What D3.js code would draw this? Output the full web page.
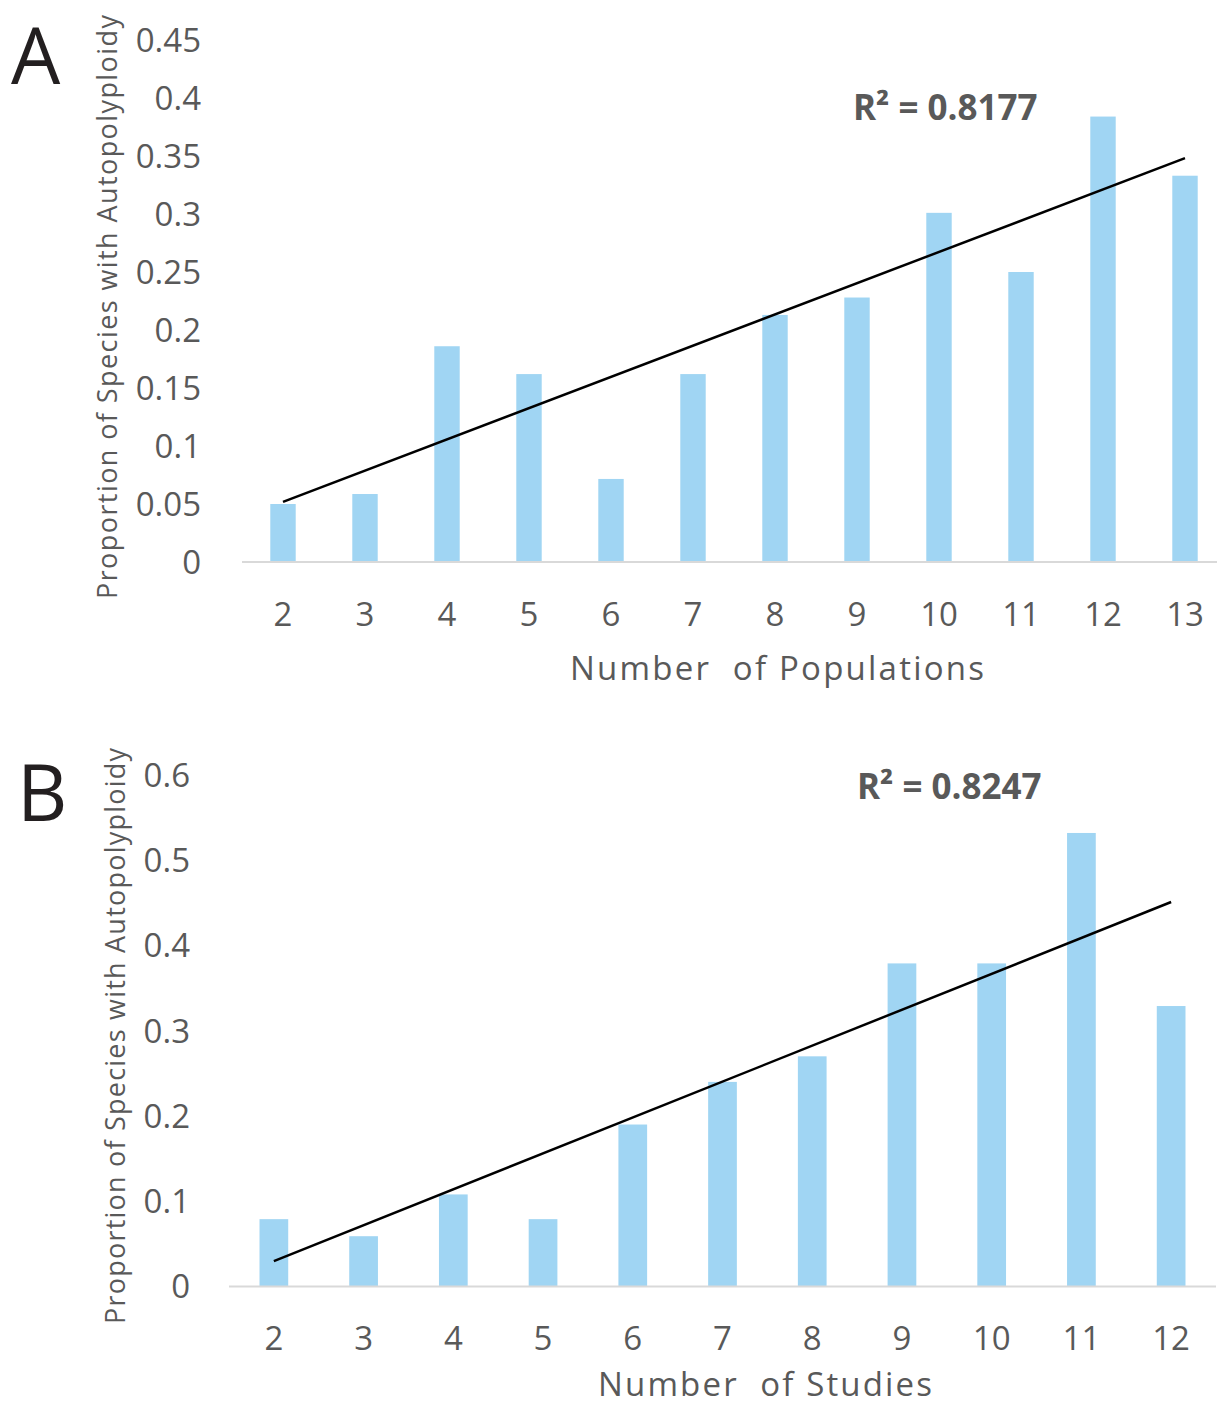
<!DOCTYPE html>
<html><head><meta charset="utf-8">
<script src="https://cdn.jsdelivr.net/npm/d3@7"></script>
<style>body{margin:0;background:#fff}svg{display:block}text{font-family:"Open Sans",sans-serif}</style>
</head><body>
<svg id="c" width="1217" height="1407"></svg>
<script>
// Panel A data
const catsA = ["2","3","4","5","6","7","8","9","10","11","12","13"];
const valsA = [0.050, 0.0586, 0.186, 0.162, 0.0716, 0.162, 0.213, 0.228, 0.301, 0.250, 0.384, 0.333];
const ticksA = [0,0.05,0.1,0.15,0.2,0.25,0.3,0.35,0.4,0.45];
const tickLabelsA = ["0","0.05","0.1","0.15","0.2","0.25","0.3","0.35","0.4","0.45"];
const r2A = "R² = 0.8177";
// Panel B data
const catsB = ["2","3","4","5","6","7","8","9","10","11","12"];
const valsB = [0.079, 0.059, 0.108, 0.079, 0.19, 0.24, 0.27, 0.379, 0.379, 0.532, 0.329];
const ticksB = [0,0.1,0.2,0.3,0.4,0.5,0.6];
const tickLabelsB = ["0","0.1","0.2","0.3","0.4","0.5","0.6"];
const r2B = "R² = 0.8247";
const yTitle = "Proportion of Species with Autopolyploidy";

const svg = d3.select("#c");
const grey = "#595959", barCol = "#a0d5f3";

function panel(o){
  const g = svg.append("g");
  const x = d3.scaleBand().domain(o.cats).range([o.x0,o.x1]).paddingInner(o.pad).paddingOuter(o.pad/2);
  const y = d3.scaleLinear().domain([0,o.ymax]).range([o.y0,o.y1]);
  g.selectAll("rect").data(o.vals).enter().append("rect")
    .attr("x",(d,i)=>x(o.cats[i])).attr("width",x.bandwidth())
    .attr("y",d=>y(d)).attr("height",d=>y(0)-y(d)).attr("fill",barCol);
  g.append("line").attr("x1",o.x0).attr("x2",o.x1).attr("y1",y(0)).attr("y2",y(0))
    .attr("stroke","#d9d9d9").attr("stroke-width",2);
  g.selectAll(".yt").data(o.ticks).enter().append("text")
    .attr("x",o.ytx).attr("y",d=>y(d)).attr("dy","0.36em").attr("text-anchor","end")
    .attr("font-size",33).attr("fill",grey).text((d,i)=>o.tickLabels[i]);
  g.selectAll(".xt").data(o.cats).enter().append("text")
    .attr("x",d=>x(d)+x.bandwidth()/2).attr("y",o.xty).attr("dy","0.36em").attr("text-anchor","middle")
    .attr("font-size",33).attr("fill",grey).text(d=>d);
  // least-squares trendline
  const xs = o.cats.map(Number), n = xs.length;
  const mx = d3.mean(xs), my = d3.mean(o.vals);
  let sxy=0,sxx=0; xs.forEach((v,i)=>{sxy+=(v-mx)*(o.vals[i]-my); sxx+=(v-mx)*(v-mx);});
  const b = sxy/sxx, a = my-b*mx;
  const cx = c=>x(c)+x.bandwidth()/2;
  g.append("line").attr("x1",cx(o.cats[0])).attr("y1",y(a+b*xs[0]))
    .attr("x2",cx(o.cats[n-1])).attr("y2",y(a+b*xs[n-1]))
    .attr("stroke","#000").attr("stroke-width",2.5);
  g.append("text").attr("x",o.r2x).attr("y",o.r2y).attr("dy","0.36em").attr("font-size",35)
    .attr("font-weight","bold").attr("fill",grey).text(o.r2);
  g.append("text").attr("x",o.xtx).attr("y",o.xtitley).attr("dy","0.36em").attr("text-anchor","middle")
    .attr("font-size",33).attr("fill",grey).attr("xml:space","preserve")
    .attr("textLength",o.xtlen).attr("lengthAdjust","spacing").text(o.xtitle);
  g.append("text").attr("transform",`translate(${o.ytitlex},${o.ytitley}) rotate(-90)`)
    .attr("text-anchor","middle").attr("dy","0.36em").attr("font-size",27).attr("fill",grey)
    .attr("textLength",o.ytlen).attr("lengthAdjust","spacing").text(yTitle);
  g.append("text").attr("x",o.lx).attr("y",o.ly).attr("font-size",78).attr("fill","#231f20").text(o.letter);
}

panel({cats:catsA, vals:valsA, ticks:ticksA, tickLabels:tickLabelsA, ymax:0.45,
  x0:242, x1:1226, pad:0.69, y0:562, y1:40, ytx:201, xty:614, r2:r2A, r2x:853, r2y:107,
  xtitle:"Number  of Populations", xtx:777, xtlen:414, xtitley:668, ytitlex:107, ytitley:307, ytlen:584,
  letter:"A", lx:11, ly:84});
panel({cats:catsB, vals:valsB, ticks:ticksB, tickLabels:tickLabelsB, ymax:0.6,
  x0:229, x1:1216, pad:0.68, y0:1286.5, y1:775, ytx:190, xty:1338, r2:r2B, r2x:857, r2y:786,
  xtitle:"Number  of Studies", xtx:765, xtlen:334, xtitley:1384, ytitlex:115, ytitley:1036, ytlen:576,
  letter:"B", lx:17, ly:821});
</script>
</body></html>
